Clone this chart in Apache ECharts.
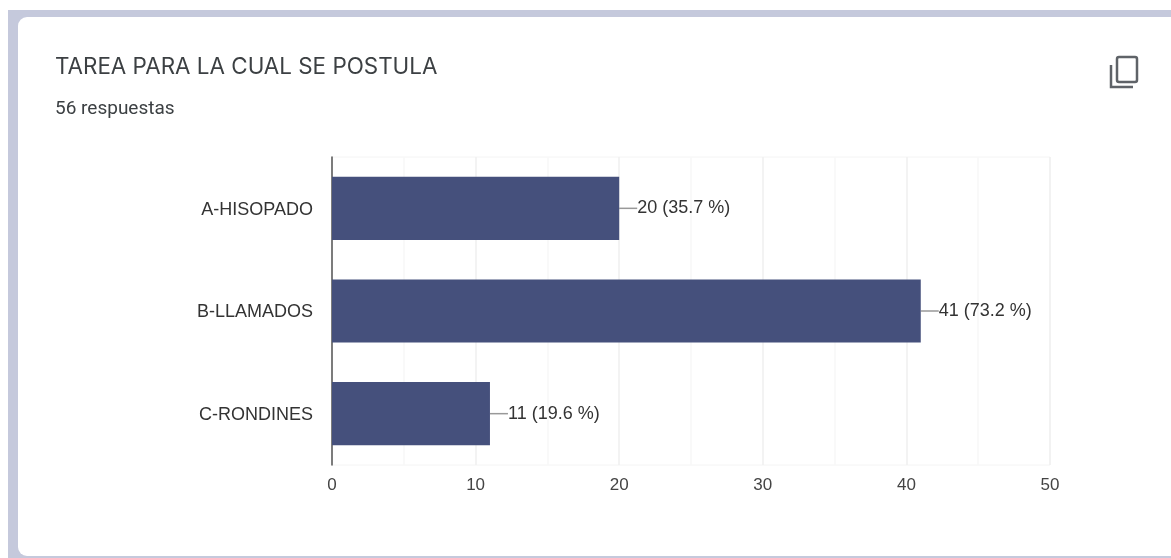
<!DOCTYPE html>
<html>
<head>
<meta charset="utf-8">
<style>
html, body { margin: 0; padding: 0; background: #fff; }
#chart { width: 1171px; height: 558px; }
</style>
<script src="https://cdn.jsdelivr.net/npm/echarts@6/dist/echarts.min.js"></script>
</head>
<body>
<div id="chart"></div>
<script>
const categories = ['A-HISOPADO', 'B-LLAMADOS', 'C-RONDINES'];
const counts = [20, 41, 11];
const percents = ['35.7', '73.2', '19.6'];
const titleText = 'TAREA PARA LA CUAL SE POSTULA';
const subtitleText = '56 respuestas';

const chart = echarts.init(document.getElementById('chart'));
chart.setOption({
    animation: false,
    backgroundColor: '#fff',
    title: {
        text: titleText,
        subtext: subtitleText,
        left: 50,
        top: 51,
        itemGap: 22,
        textStyle: { fontFamily: 'Inter', fontSize: 22.4, fontWeight: 'normal', color: '#3c4043' },
        subtextStyle: { fontFamily: 'Roboto', fontSize: 19, color: '#3c4043' }
    },
    graphic: [
        // fondo lila y tarjeta blanca
        { type: 'rect', z: -10, shape: { x: 8, y: 10, width: 1163, height: 548 }, style: { fill: '#c5c9dc' } },
        { type: 'rect', z: -9, shape: { x: 18, y: 17, width: 1165, height: 539, r: 9 }, style: { fill: '#fff' } },
        // icono de copiar
        { type: 'rect', shape: { x: 1117, y: 57, width: 20, height: 25, r: 2 }, style: { fill: 'none', stroke: '#5f6368', lineWidth: 2.5 } },
        { type: 'polyline', shape: { points: [[1111, 65], [1111, 87], [1133, 87]] }, style: { fill: 'none', stroke: '#5f6368', lineWidth: 2.5 } }
    ],
    grid: { show: true, left: 332, right: 121, top: 157, bottom: 93, borderColor: '#f4f4f4', borderWidth: 1 },
    xAxis: {
        type: 'value',
        min: 0,
        max: 50,
        interval: 10,
        axisLine: { show: false },
        axisTick: { show: false },
        axisLabel: { fontFamily: 'Liberation Sans', fontSize: 17, color: '#444', margin: 12 },
        splitLine: { show: true, lineStyle: { color: '#efefef', width: 1.5 } },
        minorTick: { show: false, splitNumber: 2 },
        minorSplitLine: { show: true, lineStyle: { color: '#f7f7f7', width: 1.5 } }
    },
    yAxis: {
        type: 'category',
        inverse: true,
        data: categories,
        axisLine: { show: true, lineStyle: { color: '#555', width: 1.5 } },
        axisTick: { show: false },
        axisLabel: { fontFamily: 'Liberation Sans', fontSize: 18, color: '#333', margin: 19, verticalAlign: 'top', lineHeight: 3 }
    },
    series: [
        {
            type: 'bar',
            data: counts,
            barWidth: '61.5%',
            itemStyle: { color: '#45507c' },
            label: {
                show: true,
                position: 'right',
                distance: 0,
                fontFamily: 'Liberation Sans',
                fontSize: 18,
                color: '#333',
                formatter: function (p) {
                    return p.value + ' (' + percents[p.dataIndex] + ' %)';
                }
            },
            labelLayout: { dx: 18 },
            labelLine: { show: true, lineStyle: { color: '#999', width: 1.5 } }
        }
    ]
});
</script>
</body>
</html>
